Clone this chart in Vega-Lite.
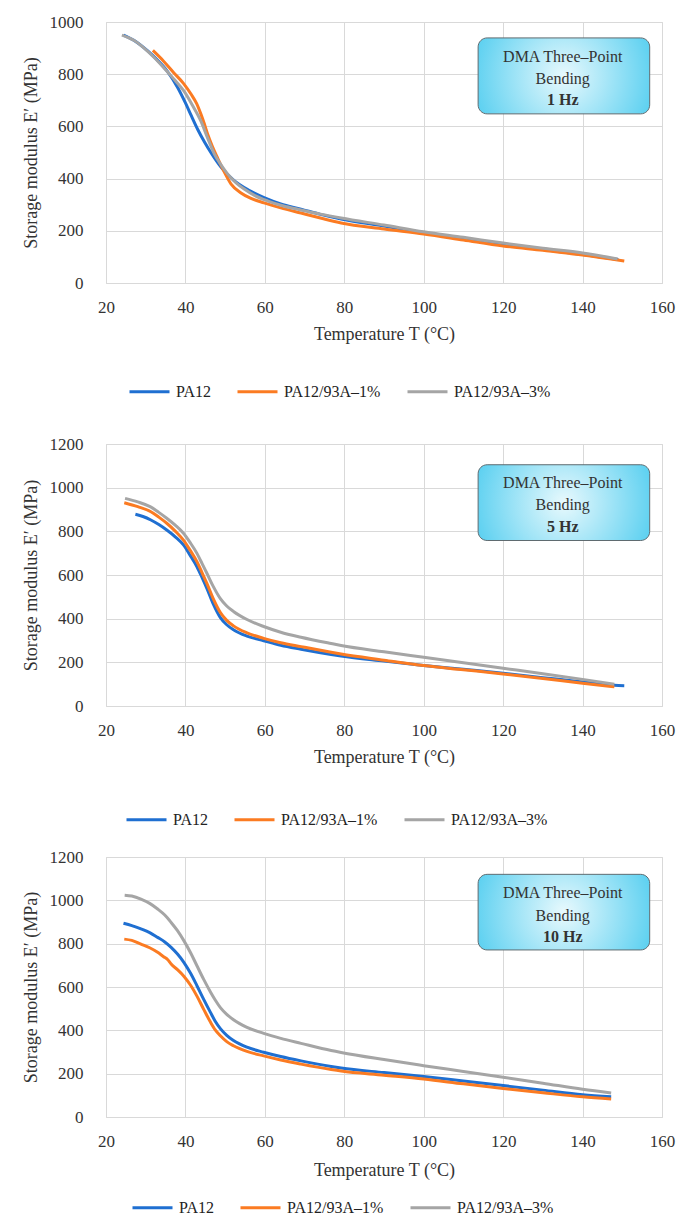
{
  "$schema": "https://vega.github.io/schema/vega-lite/v6.json",
  "background": "white",
  "padding": {"top": 12, "left": 21, "right": 0, "bottom": 0},
  "spacing": 18,
  "datasets": {
    "hz1": [
      {"series": "PA12", "T": 24.4, "E": 950}, {"series": "PA12", "T": 27, "E": 930}, {"series": "PA12", "T": 30.5, "E": 889}, {"series": "PA12", "T": 33, "E": 853}, {"series": "PA12", "T": 35.5, "E": 810}, {"series": "PA12", "T": 38, "E": 750}, {"series": "PA12", "T": 40, "E": 690}, {"series": "PA12", "T": 41.5, "E": 640}, {"series": "PA12", "T": 43.1, "E": 588}, {"series": "PA12", "T": 44.8, "E": 540}, {"series": "PA12", "T": 46.4, "E": 500}, {"series": "PA12", "T": 49, "E": 443}, {"series": "PA12", "T": 52.2, "E": 393}, {"series": "PA12", "T": 56, "E": 355}, {"series": "PA12", "T": 59.8, "E": 327}, {"series": "PA12", "T": 64, "E": 303}, {"series": "PA12", "T": 69.1, "E": 283}, {"series": "PA12", "T": 74, "E": 263}, {"series": "PA12", "T": 79.2, "E": 245}, {"series": "PA12", "T": 90, "E": 218}, {"series": "PA12", "T": 100, "E": 193}, {"series": "PA12", "T": 110, "E": 170}, {"series": "PA12", "T": 120, "E": 147}, {"series": "PA12", "T": 130, "E": 128}, {"series": "PA12", "T": 140, "E": 109}, {"series": "PA12", "T": 149, "E": 90},
      {"series": "PA12/93A–1%", "T": 31.8, "E": 891}, {"series": "PA12/93A–1%", "T": 34.5, "E": 850}, {"series": "PA12/93A–1%", "T": 37.1, "E": 805}, {"series": "PA12/93A–1%", "T": 39.5, "E": 765}, {"series": "PA12/93A–1%", "T": 41.4, "E": 724}, {"series": "PA12/93A–1%", "T": 42.8, "E": 688}, {"series": "PA12/93A–1%", "T": 43.9, "E": 647}, {"series": "PA12/93A–1%", "T": 44.8, "E": 608}, {"series": "PA12/93A–1%", "T": 45.6, "E": 570}, {"series": "PA12/93A–1%", "T": 46.8, "E": 523}, {"series": "PA12/93A–1%", "T": 48.1, "E": 479}, {"series": "PA12/93A–1%", "T": 49.8, "E": 425}, {"series": "PA12/93A–1%", "T": 51.5, "E": 379}, {"series": "PA12/93A–1%", "T": 54, "E": 345}, {"series": "PA12/93A–1%", "T": 56.5, "E": 324}, {"series": "PA12/93A–1%", "T": 59.8, "E": 307}, {"series": "PA12/93A–1%", "T": 64, "E": 288}, {"series": "PA12/93A–1%", "T": 69.1, "E": 268}, {"series": "PA12/93A–1%", "T": 74, "E": 249}, {"series": "PA12/93A–1%", "T": 79.2, "E": 230}, {"series": "PA12/93A–1%", "T": 90, "E": 207}, {"series": "PA12/93A–1%", "T": 100, "E": 188}, {"series": "PA12/93A–1%", "T": 110, "E": 165}, {"series": "PA12/93A–1%", "T": 120, "E": 142}, {"series": "PA12/93A–1%", "T": 130, "E": 125}, {"series": "PA12/93A–1%", "T": 140, "E": 107}, {"series": "PA12/93A–1%", "T": 150.5, "E": 84},
      {"series": "PA12/93A–3%", "T": 24, "E": 950}, {"series": "PA12/93A–3%", "T": 27, "E": 930}, {"series": "PA12/93A–3%", "T": 29.6, "E": 900}, {"series": "PA12/93A–3%", "T": 32, "E": 866}, {"series": "PA12/93A–3%", "T": 34.6, "E": 824}, {"series": "PA12/93A–3%", "T": 37, "E": 783}, {"series": "PA12/93A–3%", "T": 39.6, "E": 736}, {"series": "PA12/93A–3%", "T": 41.8, "E": 680}, {"series": "PA12/93A–3%", "T": 43.9, "E": 620}, {"series": "PA12/93A–3%", "T": 45.6, "E": 555}, {"series": "PA12/93A–3%", "T": 47.3, "E": 494}, {"series": "PA12/93A–3%", "T": 49, "E": 452}, {"series": "PA12/93A–3%", "T": 50.6, "E": 418}, {"series": "PA12/93A–3%", "T": 52.7, "E": 385}, {"series": "PA12/93A–3%", "T": 54.8, "E": 360}, {"series": "PA12/93A–3%", "T": 57.5, "E": 335}, {"series": "PA12/93A–3%", "T": 60.8, "E": 314}, {"series": "PA12/93A–3%", "T": 64.5, "E": 296}, {"series": "PA12/93A–3%", "T": 69.1, "E": 280}, {"series": "PA12/93A–3%", "T": 74, "E": 264}, {"series": "PA12/93A–3%", "T": 79.2, "E": 249}, {"series": "PA12/93A–3%", "T": 90, "E": 222}, {"series": "PA12/93A–3%", "T": 100, "E": 196}, {"series": "PA12/93A–3%", "T": 110, "E": 175}, {"series": "PA12/93A–3%", "T": 120, "E": 153}, {"series": "PA12/93A–3%", "T": 130, "E": 133}, {"series": "PA12/93A–3%", "T": 140, "E": 115}, {"series": "PA12/93A–3%", "T": 148.8, "E": 92}
    ],
    "hz5": [
      {"series": "PA12", "T": 27.4, "E": 878}, {"series": "PA12", "T": 29.3, "E": 868}, {"series": "PA12", "T": 31.3, "E": 852}, {"series": "PA12", "T": 33.3, "E": 831}, {"series": "PA12", "T": 35.3, "E": 806}, {"series": "PA12", "T": 37.5, "E": 774}, {"series": "PA12", "T": 39.5, "E": 738}, {"series": "PA12", "T": 41.2, "E": 690}, {"series": "PA12", "T": 42.9, "E": 638}, {"series": "PA12", "T": 44.2, "E": 588}, {"series": "PA12", "T": 45.4, "E": 539}, {"series": "PA12", "T": 47, "E": 468}, {"series": "PA12", "T": 48.8, "E": 405}, {"series": "PA12", "T": 50.4, "E": 372}, {"series": "PA12", "T": 52.1, "E": 349}, {"series": "PA12", "T": 55.5, "E": 320}, {"series": "PA12", "T": 59.7, "E": 299}, {"series": "PA12", "T": 64, "E": 278}, {"series": "PA12", "T": 69.1, "E": 260}, {"series": "PA12", "T": 76.7, "E": 236}, {"series": "PA12", "T": 79.2, "E": 229}, {"series": "PA12", "T": 90, "E": 206}, {"series": "PA12", "T": 100, "E": 186}, {"series": "PA12", "T": 110, "E": 168}, {"series": "PA12", "T": 120, "E": 150}, {"series": "PA12", "T": 130, "E": 130}, {"series": "PA12", "T": 140, "E": 110}, {"series": "PA12", "T": 148, "E": 95}, {"series": "PA12", "T": 150.5, "E": 93},
      {"series": "PA12/93A–1%", "T": 24.6, "E": 931}, {"series": "PA12/93A–1%", "T": 28, "E": 913}, {"series": "PA12/93A–1%", "T": 31.3, "E": 890}, {"series": "PA12/93A–1%", "T": 33.3, "E": 865}, {"series": "PA12/93A–1%", "T": 35.3, "E": 837}, {"series": "PA12/93A–1%", "T": 37.5, "E": 800}, {"series": "PA12/93A–1%", "T": 39.5, "E": 760}, {"series": "PA12/93A–1%", "T": 41.2, "E": 713}, {"series": "PA12/93A–1%", "T": 42.9, "E": 661}, {"series": "PA12/93A–1%", "T": 44.2, "E": 610}, {"series": "PA12/93A–1%", "T": 45.4, "E": 562}, {"series": "PA12/93A–1%", "T": 47, "E": 492}, {"series": "PA12/93A–1%", "T": 48.8, "E": 428}, {"series": "PA12/93A–1%", "T": 50.4, "E": 392}, {"series": "PA12/93A–1%", "T": 52.1, "E": 367}, {"series": "PA12/93A–1%", "T": 55.5, "E": 335}, {"series": "PA12/93A–1%", "T": 59.7, "E": 310}, {"series": "PA12/93A–1%", "T": 64, "E": 290}, {"series": "PA12/93A–1%", "T": 69.1, "E": 272}, {"series": "PA12/93A–1%", "T": 76.7, "E": 246}, {"series": "PA12/93A–1%", "T": 79.2, "E": 238}, {"series": "PA12/93A–1%", "T": 90, "E": 210}, {"series": "PA12/93A–1%", "T": 100, "E": 185}, {"series": "PA12/93A–1%", "T": 110, "E": 166}, {"series": "PA12/93A–1%", "T": 120, "E": 147}, {"series": "PA12/93A–1%", "T": 130, "E": 126}, {"series": "PA12/93A–1%", "T": 140, "E": 104}, {"series": "PA12/93A–1%", "T": 148, "E": 88},
      {"series": "PA12/93A–3%", "T": 24.8, "E": 951}, {"series": "PA12/93A–3%", "T": 28, "E": 935}, {"series": "PA12/93A–3%", "T": 31.1, "E": 913}, {"series": "PA12/93A–3%", "T": 33.2, "E": 888}, {"series": "PA12/93A–3%", "T": 35.3, "E": 860}, {"series": "PA12/93A–3%", "T": 37.5, "E": 827}, {"series": "PA12/93A–3%", "T": 39.5, "E": 791}, {"series": "PA12/93A–3%", "T": 41.2, "E": 748}, {"series": "PA12/93A–3%", "T": 42.9, "E": 699}, {"series": "PA12/93A–3%", "T": 44.2, "E": 652}, {"series": "PA12/93A–3%", "T": 45.4, "E": 608}, {"series": "PA12/93A–3%", "T": 47, "E": 548}, {"series": "PA12/93A–3%", "T": 48.8, "E": 492}, {"series": "PA12/93A–3%", "T": 50.4, "E": 458}, {"series": "PA12/93A–3%", "T": 52.1, "E": 433}, {"series": "PA12/93A–3%", "T": 55.5, "E": 396}, {"series": "PA12/93A–3%", "T": 59.7, "E": 364}, {"series": "PA12/93A–3%", "T": 64, "E": 338}, {"series": "PA12/93A–3%", "T": 69.1, "E": 315}, {"series": "PA12/93A–3%", "T": 76.7, "E": 286}, {"series": "PA12/93A–3%", "T": 79.2, "E": 277}, {"series": "PA12/93A–3%", "T": 90, "E": 248}, {"series": "PA12/93A–3%", "T": 100, "E": 223}, {"series": "PA12/93A–3%", "T": 110, "E": 198}, {"series": "PA12/93A–3%", "T": 120, "E": 173}, {"series": "PA12/93A–3%", "T": 130, "E": 148}, {"series": "PA12/93A–3%", "T": 140, "E": 122}, {"series": "PA12/93A–3%", "T": 148, "E": 100}
    ],
    "hz10": [
      {"series": "PA12", "T": 24.4, "E": 894}, {"series": "PA12", "T": 26.5, "E": 883}, {"series": "PA12", "T": 28.8, "E": 868}, {"series": "PA12", "T": 31, "E": 851}, {"series": "PA12", "T": 33, "E": 829}, {"series": "PA12", "T": 34.8, "E": 808}, {"series": "PA12", "T": 36.4, "E": 783}, {"series": "PA12", "T": 38, "E": 752}, {"series": "PA12", "T": 39.6, "E": 714}, {"series": "PA12", "T": 41.3, "E": 663}, {"series": "PA12", "T": 42.9, "E": 606}, {"series": "PA12", "T": 44.6, "E": 543}, {"series": "PA12", "T": 46.3, "E": 483}, {"series": "PA12", "T": 47.5, "E": 442}, {"series": "PA12", "T": 48.8, "E": 408}, {"series": "PA12", "T": 50.4, "E": 377}, {"series": "PA12", "T": 52.1, "E": 353}, {"series": "PA12", "T": 55.5, "E": 322}, {"series": "PA12", "T": 59.7, "E": 299}, {"series": "PA12", "T": 64, "E": 279}, {"series": "PA12", "T": 69.1, "E": 259}, {"series": "PA12", "T": 76.7, "E": 233}, {"series": "PA12", "T": 79.2, "E": 226}, {"series": "PA12", "T": 90, "E": 205}, {"series": "PA12", "T": 100, "E": 187}, {"series": "PA12", "T": 110, "E": 166}, {"series": "PA12", "T": 120, "E": 145}, {"series": "PA12", "T": 130, "E": 124}, {"series": "PA12", "T": 140, "E": 103}, {"series": "PA12", "T": 147.2, "E": 94},
      {"series": "PA12/93A–1%", "T": 24.6, "E": 821}, {"series": "PA12/93A–1%", "T": 26.5, "E": 815}, {"series": "PA12/93A–1%", "T": 28.8, "E": 798}, {"series": "PA12/93A–1%", "T": 31, "E": 781}, {"series": "PA12/93A–1%", "T": 33, "E": 760}, {"series": "PA12/93A–1%", "T": 34.5, "E": 740}, {"series": "PA12/93A–1%", "T": 35.5, "E": 727}, {"series": "PA12/93A–1%", "T": 36.4, "E": 706}, {"series": "PA12/93A–1%", "T": 38, "E": 680}, {"series": "PA12/93A–1%", "T": 39.6, "E": 650}, {"series": "PA12/93A–1%", "T": 41.3, "E": 608}, {"series": "PA12/93A–1%", "T": 42.9, "E": 558}, {"series": "PA12/93A–1%", "T": 44.6, "E": 497}, {"series": "PA12/93A–1%", "T": 46.3, "E": 438}, {"series": "PA12/93A–1%", "T": 47.5, "E": 402}, {"series": "PA12/93A–1%", "T": 48.8, "E": 375}, {"series": "PA12/93A–1%", "T": 50.4, "E": 348}, {"series": "PA12/93A–1%", "T": 52.1, "E": 329}, {"series": "PA12/93A–1%", "T": 55.5, "E": 303}, {"series": "PA12/93A–1%", "T": 59.7, "E": 282}, {"series": "PA12/93A–1%", "T": 64, "E": 263}, {"series": "PA12/93A–1%", "T": 69.1, "E": 244}, {"series": "PA12/93A–1%", "T": 76.7, "E": 219}, {"series": "PA12/93A–1%", "T": 79.2, "E": 212}, {"series": "PA12/93A–1%", "T": 90, "E": 193}, {"series": "PA12/93A–1%", "T": 100, "E": 175}, {"series": "PA12/93A–1%", "T": 110, "E": 153}, {"series": "PA12/93A–1%", "T": 120, "E": 132}, {"series": "PA12/93A–1%", "T": 130, "E": 112}, {"series": "PA12/93A–1%", "T": 140, "E": 93}, {"series": "PA12/93A–1%", "T": 147.2, "E": 83},
      {"series": "PA12/93A–3%", "T": 24.7, "E": 1024}, {"series": "PA12/93A–3%", "T": 26.5, "E": 1020}, {"series": "PA12/93A–3%", "T": 28.8, "E": 1006}, {"series": "PA12/93A–3%", "T": 31, "E": 986}, {"series": "PA12/93A–3%", "T": 33, "E": 960}, {"series": "PA12/93A–3%", "T": 34.8, "E": 932}, {"series": "PA12/93A–3%", "T": 36.4, "E": 898}, {"series": "PA12/93A–3%", "T": 38, "E": 860}, {"series": "PA12/93A–3%", "T": 39.6, "E": 814}, {"series": "PA12/93A–3%", "T": 41.3, "E": 758}, {"series": "PA12/93A–3%", "T": 42.9, "E": 698}, {"series": "PA12/93A–3%", "T": 44.6, "E": 635}, {"series": "PA12/93A–3%", "T": 46.3, "E": 577}, {"series": "PA12/93A–3%", "T": 47.5, "E": 540}, {"series": "PA12/93A–3%", "T": 48.8, "E": 505}, {"series": "PA12/93A–3%", "T": 50.4, "E": 474}, {"series": "PA12/93A–3%", "T": 52.1, "E": 449}, {"series": "PA12/93A–3%", "T": 55.5, "E": 414}, {"series": "PA12/93A–3%", "T": 59.7, "E": 386}, {"series": "PA12/93A–3%", "T": 64, "E": 363}, {"series": "PA12/93A–3%", "T": 69.1, "E": 340}, {"series": "PA12/93A–3%", "T": 76.7, "E": 307}, {"series": "PA12/93A–3%", "T": 79.2, "E": 298}, {"series": "PA12/93A–3%", "T": 90, "E": 265}, {"series": "PA12/93A–3%", "T": 100, "E": 237}, {"series": "PA12/93A–3%", "T": 110, "E": 210}, {"series": "PA12/93A–3%", "T": 120, "E": 183}, {"series": "PA12/93A–3%", "T": 130, "E": 156}, {"series": "PA12/93A–3%", "T": 140, "E": 128}, {"series": "PA12/93A–3%", "T": 147.2, "E": 111}
    ]
  },
  "resolve": {
    "scale": {"x": "independent", "y": "independent", "color": "independent"},
    "legend": {"color": "independent"},
    "axis": {"x": "independent", "y": "independent"}
  },
  "vconcat": [
    {
      "width": 556, "height": 261,
      "layer": [
        {
          "data": {"name": "hz1"},
          "mark": {"type": "line", "strokeWidth": 3, "interpolate": "monotone"},
          "encoding": {
            "x": {"field": "T", "type": "quantitative", "scale": {"domain": [20, 160], "nice": false, "zero": false}, "axis": {"values": [20, 40, 60, 80, 100, 120, 140, 160], "title": "Temperature T (°C)"}},
            "y": {"field": "E", "type": "quantitative", "scale": {"domain": [0, 1000], "nice": false}, "axis": {"values": [0, 100, 200, 300, 400, 500, 600, 700, 800, 900, 1000], "labelExpr": "datum.value % 200 === 0 ? format(datum.value, 'd') : ''", "title": "Storage modulus E′ (MPa)"}},
            "color": {"field": "series", "type": "nominal", "scale": {"domain": ["PA12", "PA12/93A–1%", "PA12/93A–3%"], "range": ["#1f6fd1", "#fb7b22", "#a5a5a5"]}, "legend": {"legendX": 7, "legendY": 333, "padding": 15}}
          }
        },
        {
          "data": {"values": [{}]},
          "mark": {"type": "rect", "cornerRadius": 9, "stroke": "#5f6b70", "strokeWidth": 1, "fill": {"gradient": "radial", "x1": 0.5, "y1": 0.5, "r1": 0, "x2": 0.5, "y2": 0.5, "r2": 0.55, "stops": [{"offset": 0, "color": "#e8f9fd"}, {"offset": 1, "color": "#58cff0"}]}},
          "encoding": {"x": {"datum": 113.7, "type": "quantitative"}, "x2": {"datum": 156.9}, "y": {"datum": 939, "type": "quantitative"}, "y2": {"datum": 648}}
        },
        {
          "data": {"values": [{}]},
          "mark": {"type": "text", "fontSize": 16, "color": "#333"},
          "encoding": {"x": {"datum": 135, "type": "quantitative"}, "y": {"datum": 867, "type": "quantitative"}, "text": {"value": "DMA Three–Point"}}
        },
        {
          "data": {"values": [{}]},
          "mark": {"type": "text", "fontSize": 16, "color": "#333"},
          "encoding": {"x": {"datum": 135, "type": "quantitative"}, "y": {"datum": 783, "type": "quantitative"}, "text": {"value": "Bending"}}
        },
        {
          "data": {"values": [{}]},
          "mark": {"type": "text", "fontSize": 16, "fontWeight": "bold", "color": "#333"},
          "encoding": {"x": {"datum": 135, "type": "quantitative"}, "y": {"datum": 701, "type": "quantitative"}, "text": {"value": "1 Hz"}}
        }
      ]
    },
    {
      "width": 556, "height": 262,
      "layer": [
        {
          "data": {"name": "hz5"},
          "mark": {"type": "line", "strokeWidth": 3, "interpolate": "monotone"},
          "encoding": {
            "x": {"field": "T", "type": "quantitative", "scale": {"domain": [20, 160], "nice": false, "zero": false}, "axis": {"values": [20, 40, 60, 80, 100, 120, 140, 160], "title": "Temperature T (°C)"}},
            "y": {"field": "E", "type": "quantitative", "scale": {"domain": [0, 1200], "nice": false}, "axis": {"values": [0, 200, 400, 600, 800, 1000, 1200], "format": "d", "title": "Storage modulus E′ (MPa)"}},
            "color": {"field": "series", "type": "nominal", "scale": {"domain": ["PA12", "PA12/93A–1%", "PA12/93A–3%"], "range": ["#1f6fd1", "#fb7b22", "#a5a5a5"]}, "legend": {"legendX": 19, "legendY": 354, "padding": 0}}
          }
        },
        {
          "data": {"values": [{}]},
          "mark": {"type": "rect", "cornerRadius": 9, "stroke": "#5f6b70", "strokeWidth": 1, "fill": {"gradient": "radial", "x1": 0.5, "y1": 0.5, "r1": 0, "x2": 0.5, "y2": 0.5, "r2": 0.55, "stops": [{"offset": 0, "color": "#e8f9fd"}, {"offset": 1, "color": "#58cff0"}]}},
          "encoding": {"x": {"datum": 113.7, "type": "quantitative"}, "x2": {"datum": 156.9}, "y": {"datum": 1105, "type": "quantitative"}, "y2": {"datum": 758}}
        },
        {
          "data": {"values": [{}]},
          "mark": {"type": "text", "fontSize": 16, "color": "#333"},
          "encoding": {"x": {"datum": 135, "type": "quantitative"}, "y": {"datum": 1020, "type": "quantitative"}, "text": {"value": "DMA Three–Point"}}
        },
        {
          "data": {"values": [{}]},
          "mark": {"type": "text", "fontSize": 16, "color": "#333"},
          "encoding": {"x": {"datum": 135, "type": "quantitative"}, "y": {"datum": 921, "type": "quantitative"}, "text": {"value": "Bending"}}
        },
        {
          "data": {"values": [{}]},
          "mark": {"type": "text", "fontSize": 16, "fontWeight": "bold", "color": "#333"},
          "encoding": {"x": {"datum": 135, "type": "quantitative"}, "y": {"datum": 821, "type": "quantitative"}, "text": {"value": "5 Hz"}}
        }
      ]
    },
    {
      "width": 556, "height": 260,
      "layer": [
        {
          "data": {"name": "hz10"},
          "mark": {"type": "line", "strokeWidth": 3, "interpolate": "monotone"},
          "encoding": {
            "x": {"field": "T", "type": "quantitative", "scale": {"domain": [20, 160], "nice": false, "zero": false}, "axis": {"values": [20, 40, 60, 80, 100, 120, 140, 160], "title": "Temperature T (°C)", "titlePadding": 12}},
            "y": {"field": "E", "type": "quantitative", "scale": {"domain": [0, 1200], "nice": false}, "axis": {"values": [0, 200, 400, 600, 800, 1000, 1200], "format": "d", "title": "Storage modulus E′ (MPa)"}},
            "color": {"field": "series", "type": "nominal", "scale": {"domain": ["PA12", "PA12/93A–1%", "PA12/93A–3%"], "range": ["#1f6fd1", "#fb7b22", "#a5a5a5"]}, "legend": {"legendX": 25, "legendY": 329, "padding": 0}}
          }
        },
        {
          "data": {"values": [{}]},
          "mark": {"type": "rect", "cornerRadius": 9, "stroke": "#5f6b70", "strokeWidth": 1, "fill": {"gradient": "radial", "x1": 0.5, "y1": 0.5, "r1": 0, "x2": 0.5, "y2": 0.5, "r2": 0.55, "stops": [{"offset": 0, "color": "#e8f9fd"}, {"offset": 1, "color": "#58cff0"}]}},
          "encoding": {"x": {"datum": 113.7, "type": "quantitative"}, "x2": {"datum": 156.9}, "y": {"datum": 1120, "type": "quantitative"}, "y2": {"datum": 771}}
        },
        {
          "data": {"values": [{}]},
          "mark": {"type": "text", "fontSize": 16, "color": "#333"},
          "encoding": {"x": {"datum": 135, "type": "quantitative"}, "y": {"datum": 1032, "type": "quantitative"}, "text": {"value": "DMA Three–Point"}}
        },
        {
          "data": {"values": [{}]},
          "mark": {"type": "text", "fontSize": 16, "color": "#333"},
          "encoding": {"x": {"datum": 135, "type": "quantitative"}, "y": {"datum": 929, "type": "quantitative"}, "text": {"value": "Bending"}}
        },
        {
          "data": {"values": [{}]},
          "mark": {"type": "text", "fontSize": 16, "fontWeight": "bold", "color": "#333"},
          "encoding": {"x": {"datum": 135, "type": "quantitative"}, "y": {"datum": 832, "type": "quantitative"}, "text": {"value": "10 Hz"}}
        }
      ]
    }
  ],
  "config": {
    "font": "Liberation Serif",
    "view": {"stroke": "#d9d9d9", "strokeWidth": 1},
    "axis": {"grid": true, "gridColor": "#d9d9d9", "gridWidth": 1, "domain": false, "ticks": false, "tickSize": 0, "labelFont": "Liberation Serif", "labelFontSize": 17, "labelColor": "#333", "titleFont": "Liberation Serif", "titleFontSize": 18, "titleFontWeight": "normal", "titleColor": "#333", "labelFlush": false, "labelOverlap": false},
    "axisX": {"labelPadding": 16, "titlePadding": 10},
    "axisY": {"labelPadding": 23, "titlePadding": 9},
    "legend": {"orient": "none", "direction": "horizontal", "title": null, "symbolType": "stroke", "symbolSize": 1600, "symbolStrokeWidth": 3, "labelFont": "Liberation Serif", "labelFontSize": 16, "labelColor": "#222", "columnPadding": 20, "labelOffset": 5}
  }
}
